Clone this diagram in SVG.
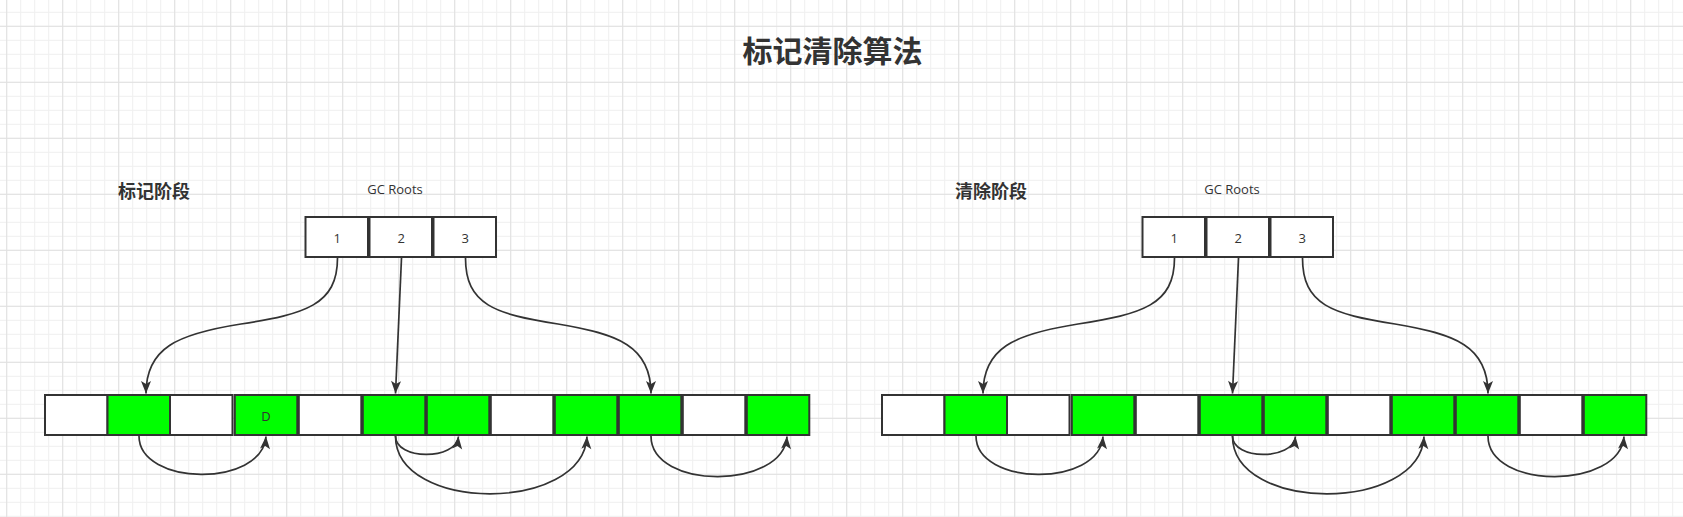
<svg xmlns="http://www.w3.org/2000/svg" width="1683" height="517" viewBox="0 0 1683 517">
  <style>
    .cell { stroke: #333333; stroke-width: 2; }
    .w { fill: #ffffff; }
    .g { fill: #00ff00; }
    .lbl { font-family: "Open Sans", "Noto Sans", "Noto Sans CJK SC", sans-serif; font-size: 13px; fill: #333333; text-anchor: middle; dominant-baseline: central; }
    .head { font-family: "Noto Sans CJK SC", sans-serif; font-weight: bold; fill: #333333; text-anchor: middle; dominant-baseline: central; }
    .edge { fill: none; stroke: #333333; stroke-width: 1.7; marker-end: url(#arr); }
  </style>
  <defs>
    <pattern id="minor" x="6.2" y="11.8" width="14" height="14" patternUnits="userSpaceOnUse">
      <rect x="0" y="0" width="1" height="14" fill="#efefef"/>
      <rect x="0" y="0" width="14" height="1" fill="#efefef"/>
    </pattern>
    <pattern id="major" x="6.2" y="25.8" width="56" height="56" patternUnits="userSpaceOnUse">
      <rect x="0" y="0" width="1" height="56" fill="#e0e0e0"/>
      <rect x="0" y="0" width="56" height="1" fill="#e0e0e0"/>
    </pattern>
    <marker id="arr" viewBox="-14 -7 16 14" refX="0" refY="0" markerWidth="16" markerHeight="14" markerUnits="userSpaceOnUse" orient="auto">
      <path d="M0,0 L-12.5,-5 L-9.5,0 L-12.5,5 Z" fill="#333333"/>
    </marker>
  </defs>

  <rect x="0" y="0" width="1683" height="517" fill="#ffffff"/>
  <rect x="0" y="0" width="1683" height="517" fill="url(#minor)"/>
  <rect x="0" y="0" width="1683" height="517" fill="url(#major)"/>

  <g id="title"><text class="head" x="832.5" y="48.5" font-size="30">标记清除算法</text></g>

  <!-- Left panel: mark phase -->
  <g id="mark-phase">
    <g id="mark-label"><text class="head" x="154" y="189.5" font-size="18">标记阶段</text></g>
    <g id="mark-gcroots-label"><text class="lbl" x="395" y="189">GC Roots</text></g>

    <g id="mark-root-1"><rect class="cell w" x="305.5" y="217" width="62.5" height="40"/><text class="lbl" x="337.3" y="237.5">1</text></g>
    <g id="mark-root-2"><rect class="cell w" x="369.5" y="217" width="62.5" height="40"/><text class="lbl" x="401.3" y="237.5">2</text></g>
    <g id="mark-root-3"><rect class="cell w" x="433.5" y="217" width="62.5" height="40"/><text class="lbl" x="465.3" y="237.5">3</text></g>

    <g id="mark-cell-1"><rect class="cell w" x="45" y="395" width="62.5" height="40"/></g>
    <g id="mark-cell-2"><rect class="cell g" x="107.5" y="395" width="62.5" height="40"/></g>
    <g id="mark-cell-3"><rect class="cell w" x="170" y="395" width="62.5" height="40"/></g>
    <g id="mark-cell-4"><rect class="cell g" x="234.8" y="395" width="62.5" height="40"/><text class="lbl" x="266" y="415.5" font-size="12">D</text></g>
    <g id="mark-cell-5"><rect class="cell w" x="298.8" y="395" width="62.5" height="40"/></g>
    <g id="mark-cell-6"><rect class="cell g" x="362.8" y="395" width="62.5" height="40"/></g>
    <g id="mark-cell-7"><rect class="cell g" x="426.8" y="395" width="62.5" height="40"/></g>
    <g id="mark-cell-8"><rect class="cell w" x="490.8" y="395" width="62.5" height="40"/></g>
    <g id="mark-cell-9"><rect class="cell g" x="554.8" y="395" width="62.5" height="40"/></g>
    <g id="mark-cell-10"><rect class="cell g" x="618.8" y="395" width="62.5" height="40"/></g>
    <g id="mark-cell-11"><rect class="cell w" x="682.8" y="395" width="62.5" height="40"/></g>
    <g id="mark-cell-12"><rect class="cell g" x="746.8" y="395" width="62.5" height="40"/></g>

    <g id="mark-connectors">
      <path class="edge" d="M337.5,258 C337.5,305 305,314 241,324 C177,334 146,348 146,393.5"/>
      <path class="edge" d="M401.5,258 L395.5,393.5"/>
      <path class="edge" d="M465.5,258 C465.5,305 495,314 558,324 C618,334 651,346 651,393.5"/>
      <path class="edge" d="M139,436 C139,486 262,488 266,436.5"/>
      <path class="edge" d="M395.5,436 C395.5,460.5 456,460.5 458.5,436.5"/>
      <path class="edge" d="M395.5,436 C395.5,513 583,513 587,436.5"/>
      <path class="edge" d="M651,436 C651,490 783,490 787,436.5"/>
    </g>
  </g>

  <!-- Right panel: sweep phase -->
  <g id="sweep-phase" transform="translate(837,0)">
    <g id="sweep-label"><text class="head" x="154" y="189.5" font-size="18">清除阶段</text></g>
    <g id="sweep-gcroots-label"><text class="lbl" x="395" y="189">GC Roots</text></g>

    <g id="sweep-root-1"><rect class="cell w" x="305.5" y="217" width="62.5" height="40"/><text class="lbl" x="337.3" y="237.5">1</text></g>
    <g id="sweep-root-2"><rect class="cell w" x="369.5" y="217" width="62.5" height="40"/><text class="lbl" x="401.3" y="237.5">2</text></g>
    <g id="sweep-root-3"><rect class="cell w" x="433.5" y="217" width="62.5" height="40"/><text class="lbl" x="465.3" y="237.5">3</text></g>

    <g id="sweep-cell-1"><rect class="cell w" x="45" y="395" width="62.5" height="40"/></g>
    <g id="sweep-cell-2"><rect class="cell g" x="107.5" y="395" width="62.5" height="40"/></g>
    <g id="sweep-cell-3"><rect class="cell w" x="170" y="395" width="62.5" height="40"/></g>
    <g id="sweep-cell-4"><rect class="cell g" x="234.8" y="395" width="62.5" height="40"/></g>
    <g id="sweep-cell-5"><rect class="cell w" x="298.8" y="395" width="62.5" height="40"/></g>
    <g id="sweep-cell-6"><rect class="cell g" x="362.8" y="395" width="62.5" height="40"/></g>
    <g id="sweep-cell-7"><rect class="cell g" x="426.8" y="395" width="62.5" height="40"/></g>
    <g id="sweep-cell-8"><rect class="cell w" x="490.8" y="395" width="62.5" height="40"/></g>
    <g id="sweep-cell-9"><rect class="cell g" x="554.8" y="395" width="62.5" height="40"/></g>
    <g id="sweep-cell-10"><rect class="cell g" x="618.8" y="395" width="62.5" height="40"/></g>
    <g id="sweep-cell-11"><rect class="cell w" x="682.8" y="395" width="62.5" height="40"/></g>
    <g id="sweep-cell-12"><rect class="cell g" x="746.8" y="395" width="62.5" height="40"/></g>

    <g id="sweep-connectors">
      <path class="edge" d="M337.5,258 C337.5,305 305,314 241,324 C177,334 146,348 146,393.5"/>
      <path class="edge" d="M401.5,258 L395.5,393.5"/>
      <path class="edge" d="M465.5,258 C465.5,305 495,314 558,324 C618,334 651,346 651,393.5"/>
      <path class="edge" d="M139,436 C139,486 262,488 266,436.5"/>
      <path class="edge" d="M395.5,436 C395.5,460.5 456,460.5 458.5,436.5"/>
      <path class="edge" d="M395.5,436 C395.5,513 583,513 587,436.5"/>
      <path class="edge" d="M651,436 C651,490 783,490 787,436.5"/>
    </g>
  </g>
</svg>
